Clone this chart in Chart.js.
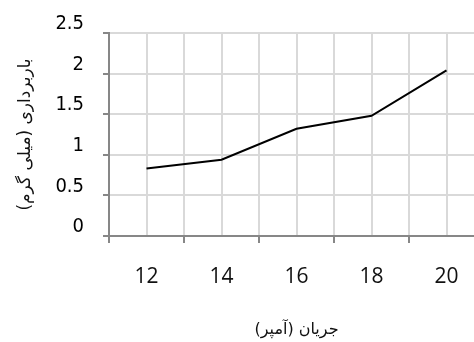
<!doctype html>
<html lang="fa">
<meta charset="utf-8">

<head>
    <script src="https://cdn.jsdelivr.net/npm/chart.js"></script>
</head>

<style>
    html, body {
        margin: 0;
        padding: 0;
        overflow: hidden;
        background: #fff;
    }
</style>

<body>

    <div style="width: 484px; height: 342px;">
        <canvas id="lineChart" width="484" height="342"></canvas>
    </div>

    <script>
        // داده ها
        const currents = [12, 14, 16, 18, 20];
        const removal = [0.83, 0.94, 1.32, 1.48, 2.04];
        const xTickLabels = ['12', '14', '16', '18', '20'];
        const yTickLabels = ['0', '0.5', '1', '1.5', '2', '2.5'];

        const axisGray = '#878787';
        const gridGray = '#d9d9d9';

        const chartData = {
            datasets: [
                {
                    label: 'removal',
                    data: currents.map((c, i) => ({ x: c, y: removal[i] })),
                    borderColor: '#000',
                    backgroundColor: '#000',
                    borderWidth: 2,
                    pointRadius: 0,
                    tension: 0
                }
            ]
        };

        const config = {
            type: 'line',
            data: chartData,
            options: {
                responsive: false,
                animation: false,
                layout: {
                    padding: { top: 33, right: 0, bottom: 0, left: 0 }
                },
                plugins: {
                    legend: { display: false },
                    tooltip: { enabled: false }
                },
                scales: {
                    x: {
                        type: 'linear',
                        min: 11,
                        max: 21,
                        afterFit: scale => { scale.height = 106; },
                        afterBuildTicks: scale => {
                            const t = [];
                            for (let v = 11; v <= 21; v++) t.push({ value: v });
                            scale.ticks = t;
                        },
                        ticks: {
                            autoSkip: false,
                            maxRotation: 0,
                            padding: 0,
                            color: '#111',
                            // tall line box pushes the labels down without adding side padding
                            font: { family: '"Open Sans", "DejaVu Sans", sans-serif', size: 21, lineHeight: '68px' },
                            callback: v => {
                                const i = currents.indexOf(v);
                                return i >= 0 ? xTickLabels[i] : '';
                            }
                        },
                        grid: {
                            color: ctx => (ctx.tick && ctx.tick.value === 11) ? 'rgba(0,0,0,0)' : gridGray,
                            lineWidth: 2,
                            tickLength: 7,
                            tickColor: ctx => (ctx.tick && ctx.tick.value % 2 === 1) ? axisGray : 'rgba(0,0,0,0)',
                            tickWidth: 2
                        },
                        border: { color: axisGray, width: 2 },
                        title: {
                            display: true,
                            text: 'جریان (آمپر)',
                            color: '#111',
                            font: { family: '"DejaVu Sans", sans-serif', size: 16 },
                            padding: { top: 0, bottom: 3 }
                        }
                    },
                    y: {
                        min: 0,
                        max: 2.5,
                        afterFit: scale => { scale.width = 109; },
                        ticks: {
                            stepSize: 0.5,
                            padding: 19,
                            labelOffset: -9,
                            color: '#000',
                            font: { family: '"DejaVu Sans Condensed", sans-serif', size: 20 },
                            callback: (v, i) => yTickLabels[i]
                        },
                        grid: {
                            color: gridGray,
                            lineWidth: 2,
                            tickLength: 6,
                            tickColor: axisGray,
                            tickWidth: 2
                        },
                        border: { color: axisGray, width: 2 },
                        title: {
                            display: true,
                            text: 'باربرداری (میلی گرم)',
                            color: '#111',
                            font: { family: '"DejaVu Sans", sans-serif', size: 17 },
                            padding: { top: 15, bottom: 0 }
                        }
                    }
                }
            }
        };

        const chart = new Chart(
            document.getElementById('lineChart'),
            config
        );
    </script>
</body>

</html>
